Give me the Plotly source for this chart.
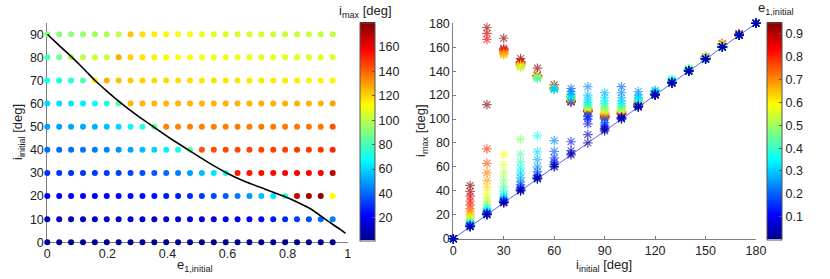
import plotly.graph_objects as go

# ---------------- data ----------------
e_values = [0.0, 0.0396, 0.0792, 0.1188, 0.1583, 0.1979, 0.2375, 0.2771, 0.3167,
            0.3563, 0.3958, 0.4354, 0.475, 0.5146, 0.5542, 0.5938, 0.6333, 0.6729,
            0.7125, 0.7521, 0.7917, 0.8313, 0.8708, 0.9104, 0.95]

i_initial = [0, 10, 20, 30, 40, 50, 60, 70, 80, 90, 100, 110, 120, 130, 140, 150, 160, 170, 180]

imax_000 = [0.0] * 25
imax_010 = [10, 10.05, 10.2, 10.4, 10.7, 11, 11.3, 11.7, 12.1, 12.6, 13.1, 13.8, 14.5, 15.3,
            16.3, 17.5, 19, 20.5, 22.5, 25, 28, 31.5, 35.5, 39.5, 44.5]
imax_020 = [20, 20.1, 20.3, 20.6, 20.9, 21.2, 21.7, 22.3, 23, 24, 25, 26.5, 28.5, 31, 34, 38,
            43, 48.5, 55, 63, 75, 166.5, 171.5, 176.5, 112]
imax_030 = [30, 30.1, 30.4, 30.8, 31.3, 31.8, 32.5, 33.5, 35, 37, 40, 44, 49, 55, 62, 70.5,
            153.5, 154, 155, 156, 157, 157.5, 158, 159, 167.5]
imax_040 = [40, 40.2, 40.8, 41.7, 43, 45, 47.5, 51, 55, 59, 64, 70.5, 83,
            143, 143.5, 144, 144.5, 145, 145.5, 146, 146.5, 147, 147.5, 148, 150.5]
imax_050 = [50, 50.2, 50.7, 51.5, 53, 56, 60, 66, 72.5, 86, 134, 134.2, 134.4, 134.6, 134.8,
            135, 135.2, 135.4, 135.6, 135.8, 136, 136.2, 136.4, 136.6, 142.5]
imax_060 = [60, 60.5, 62, 64, 67.5, 73, 82, 125, 125.1, 125.2, 125.3, 125.4, 125.5, 125.5,
            125.6, 125.6, 125.7, 125.7, 125.8, 125.8, 125.9, 125.9, 126, 126, 128.5]
imax_070 = [70, 71, 73.5, 81, 114, 125.5, 123, 121, 120, 119, 118.5, 118, 117.5, 117, 116.8,
            116.5, 116.3, 116, 115.8, 115.6, 115.4, 115.2, 115, 114.8, 114.5]
imax_080 = [80, 87, 96, 100, 102, 103, 127, 120, 116, 114, 112.5, 111.5, 110.5, 110, 109.5,
            109, 108.6, 108.2, 107.8, 107.5, 107.2, 107, 106.8, 106.5, 106]
imax_090 = [90, 91, 92, 93.5, 95, 97, 100, 122, 118, 115, 113, 111, 109.5, 108.5, 107.5,
            106.5, 105.5, 104.8, 104, 103.4, 102.8, 102.3, 101.8, 101.4, 101]
imax_100 = [100, 100.3, 100.7, 101.2, 101.8, 127, 122, 118, 115, 113, 111.5, 110.3, 109.3,
            108.5, 107.8, 107.2, 106.6, 106.1, 105.7, 105.3, 105, 104.7, 104.4, 104.2, 104]
imax_110 = [110, 110.2, 110.4, 110.7, 111, 111.4, 123, 120, 118, 117, 116.2, 115.6, 115.1,
            114.7, 114.3, 114, 113.7, 113.4, 113.2, 113, 112.8, 112.6, 112.4, 112.2, 112]
imax_120 = [120, 120.1, 120.2, 120.4, 120.6, 120.9, 121.3, 124, 123.5, 123, 122.6, 122.3, 122,
            121.8, 121.6, 121.4, 121.3, 121.2, 121.1, 121, 120.9, 120.8, 120.7, 120.6, 120.5]
imax_130 = [130, 130.1, 130.2, 130.3, 130.4, 130.6, 130.8, 131, 131.3, 131.8, 133.5, 133,
            132.6, 132.3, 132, 131.8, 131.6, 131.4, 131.3, 131.2, 131.1, 131, 130.9, 130.8, 130.7]
imax_140 = [140, 140.05, 140.1, 140.2, 140.3, 140.4, 140.5, 140.6, 140.8, 141, 141.3, 141.6,
            142.3, 142, 141.7, 141.5, 141.3, 141.2, 141.1, 141, 140.9, 140.8, 140.7, 140.6, 140.5]
imax_150 = [150, 150.05, 150.1, 150.15, 150.2, 150.3, 150.4, 150.5, 150.6, 150.7, 150.8,
            150.9, 151, 151.2, 151.4, 151.6, 151.8, 152, 152.2, 152.1, 151.9, 151.7, 151.5,
            151.3, 151.1]
imax_160 = [160, 160.05, 160.1, 160.15, 160.2, 160.25, 160.3, 160.4, 160.5, 160.6, 160.7,
            160.8, 161, 161.2, 161.4, 161.7, 162, 162.3, 162.6, 162.8, 163, 162.8, 162.5,
            162.2, 162]
imax_170 = [170, 170.02, 170.05, 170.08, 170.1, 170.12, 170.15, 170.2, 170.25, 170.3, 170.35,
            170.4, 170.45, 170.5, 170.55, 170.6, 170.65, 170.7, 170.8, 170.9, 171, 171.1,
            171.2, 171.3, 171.4]
imax_180 = [180.0] * 25

imax_rows = [imax_000, imax_010, imax_020, imax_030, imax_040, imax_050, imax_060, imax_070,
             imax_080, imax_090, imax_100, imax_110, imax_120, imax_130, imax_140, imax_150,
             imax_160, imax_170, imax_180]

# boundary curve
curve_e = [0.0, 0.04, 0.08, 0.12, 0.159, 0.2, 0.2475, 0.3, 0.353, 0.41, 0.469, 0.53, 0.597,
           0.66, 0.725, 0.786, 0.84, 0.88, 0.925, 0.952, 0.975, 0.993]
curve_i = [90, 85.1, 80.3, 75.2, 70, 65.2, 60, 54.8, 50, 44.9, 40, 35.0, 30, 26.2, 23.0, 20,
           16.9, 14.2, 10, 7.6, 5.6, 3.9]

imax_cbar_ticks = [20, 40, 60, 80, 100, 120, 140, 160]
e_cbar_ticks = [0.1, 0.2, 0.3, 0.4, 0.5, 0.6, 0.7, 0.8, 0.9]

# ---------------- styling ----------------
W, H = 830, 279
FONT = "Liberation Sans, Arial, Helvetica, sans-serif"
FS = 12.5
AXC = "#7f7f7f"

jet = [[0.0, "rgb(0,0,143)"], [0.111, "rgb(0,0,255)"], [0.365, "rgb(0,255,255)"],
       [0.619, "rgb(255,255,0)"], [0.873, "rgb(255,0,0)"], [1.0, "rgb(128,0,0)"]]

def px_x(p):
    return p / W

def px_y(p):
    return 1 - p / H

# left panel points (i_initial <= 90)
lx, ly, lc = [], [], []
for r, ii in enumerate(i_initial):
    if ii > 90:
        continue
    for k, e in enumerate(e_values):
        lx.append(e)
        ly.append(ii)
        lc.append(imax_rows[r][k])

# right panel points, high e first so low e is drawn on top
rx, ry, rc = [], [], []
for k in reversed(range(len(e_values))):
    for r, ii in enumerate(i_initial):
        rx.append(ii)
        ry.append(imax_rows[r][k])
        rc.append(e_values[k])

fig = go.Figure()

fig.add_trace(go.Scatter(
    x=lx, y=ly, mode="markers", xaxis="x", yaxis="y", cliponaxis=False,
    marker=dict(size=6, color=lc, colorscale=jet, cmin=1.5, cmax=180, line=dict(width=0),
                colorbar=dict(x=px_x(359.5), xanchor="left", xpad=0, ypad=0,
                              y=px_y(131.5), yanchor="middle", len=217.5 / H, lenmode="fraction",
                              thickness=15, outlinewidth=1, outlinecolor="#555",
                              tickvals=imax_cbar_ticks, ticks="inside", ticklen=3,
                              tickcolor="#555", tickfont=dict(family=FONT, size=FS, color="#222"))),
    showlegend=False, hoverinfo="skip"))

fig.add_trace(go.Scatter(
    x=curve_e, y=curve_i, mode="lines", xaxis="x", yaxis="y",
    line=dict(color="black", width=1.6, shape="spline", smoothing=0.5),
    showlegend=False, hoverinfo="skip"))

fig.add_trace(go.Scatter(
    x=[0, 180], y=[0, 180], mode="lines", xaxis="x2", yaxis="y2",
    line=dict(color="rgba(70,70,255,0.85)", width=1), showlegend=False, hoverinfo="skip"))

fig.add_trace(go.Scatter(
    x=rx, y=ry, mode="markers", xaxis="x2", yaxis="y2", cliponaxis=False,
    marker=dict(symbol="asterisk-open", size=8, color=rc, colorscale=jet, cmin=0, cmax=0.95,
                opacity=0.65, line=dict(width=1.2),
                colorbar=dict(x=px_x(767), xanchor="left", xpad=0, ypad=0,
                              y=px_y(131), yanchor="middle", len=216.6 / H, lenmode="fraction",
                              thickness=15, outlinewidth=1, outlinecolor="#555",
                              tickvals=e_cbar_ticks, ticks="inside", ticklen=3,
                              tickcolor="#555", tickfont=dict(family=FONT, size=FS, color="#222"))),
    showlegend=False, hoverinfo="skip"))

axis_common = dict(showline=True, linecolor=AXC, linewidth=1, ticks="inside", ticklen=3,
                   tickcolor=AXC, showgrid=False, zeroline=False, mirror=False,
                   layer="below traces",
                   tickfont=dict(family=FONT, size=FS, color="#222"))

fig.update_layout(
    width=W, height=H, margin=dict(l=0, r=0, t=0, b=0, autoexpand=False),
    paper_bgcolor="white", plot_bgcolor="white",
    font=dict(family=FONT, size=FS, color="#222"),
    xaxis=dict(domain=[px_x(47.3), px_x(347.7)], range=[0, 1], anchor="y",
               tickvals=[0, 0.2, 0.4, 0.6, 0.8, 1], ticktext=["0", "0.2", "0.4", "0.6", "0.8", "1"],
               **axis_common),
    yaxis=dict(domain=[px_y(242.3), px_y(22.7)], range=[0, 95], anchor="x",
               tickvals=[0, 10, 20, 30, 40, 50, 60, 70, 80, 90], **axis_common),
    xaxis2=dict(domain=[px_x(453.3), px_x(756)], range=[0, 180], anchor="y2",
                tickvals=[0, 30, 60, 90, 120, 150, 180], **axis_common),
    yaxis2=dict(domain=[px_y(238.7), px_y(23.3)], range=[0, 180], anchor="x2",
                tickvals=[0, 20, 40, 60, 80, 100, 120, 140, 160, 180], **axis_common),
)

def label(text, x, y, angle=0):
    fig.add_annotation(text=text, xref="paper", yref="paper", x=px_x(x), y=px_y(y),
                       xanchor="center", yanchor="middle", showarrow=False, textangle=angle,
                       font=dict(family=FONT, size=FS + 0.5, color="#222"))

label("e<sub>1,initial</sub>", 195, 265.5)
label("i<sub>initial</sub> [deg]", 18, 132, -90)
label("i<sub>max</sub> [deg]", 421, 131, -90)
label("i<sub>initial</sub> [deg]", 604, 265.5)
label("i<sub>max</sub> [deg]", 365, 12)
label("e<sub>1,initial</sub>", 776, 9)

fig.write_html("out.html", config={"displayModeBar": False},
               post_script="document.body.style.margin='0px';document.body.style.overflow='hidden';")
